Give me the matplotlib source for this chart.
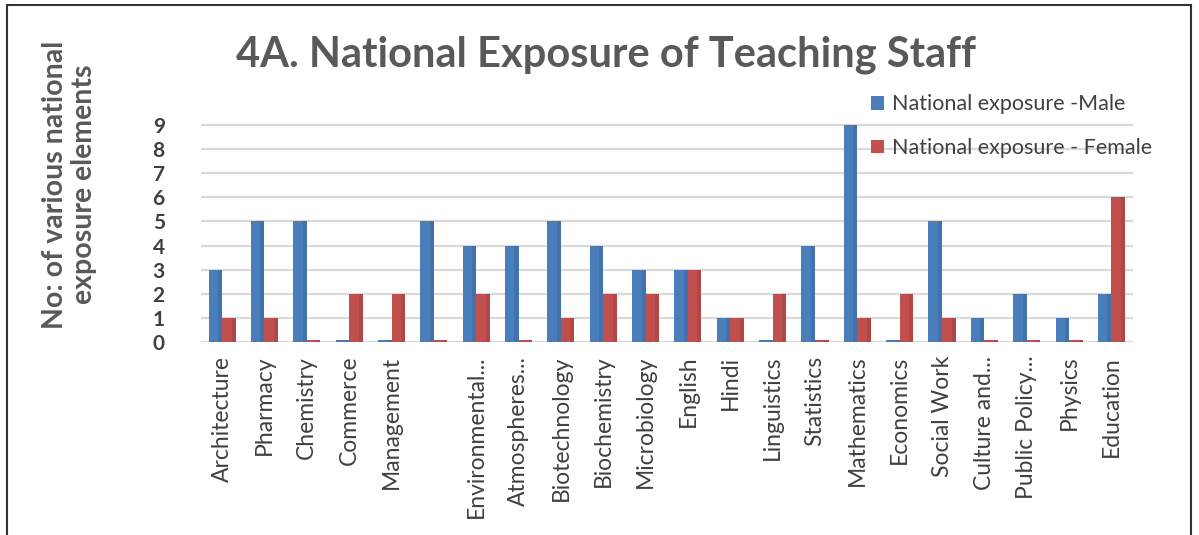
import numpy as np
import matplotlib
matplotlib.use("Agg")
from matplotlib import pyplot as plt
from matplotlib.patches import Rectangle

# data
subjects = ["Architecture", "Pharmacy", "Chemistry", "Commerce", "Management", "",
            "Environmental...", "Atmospheres...", "Biotechnology", "Biochemistry",
            "Microbiology", "English", "Hindi", "Linguistics", "Statistics",
            "Mathematics", "Economics", "Social Work", "Culture and...",
            "Public Policy...", "Physics", "Education"]
male = [3, 5, 5, 0, 0, 5, 4, 4, 5, 4, 3, 3, 1, 0, 4, 9, 0, 5, 1, 2, 1, 2]
female = [1, 1, 0, 2, 2, 0, 2, 0, 1, 2, 2, 3, 1, 2, 0, 1, 2, 1, 0, 0, 0, 6]
series_names = ["National exposure -Male", "National exposure - Female"]

BLUE = "#4a7ebb"
BLUE_DARK = "#345e95"
RED = "#c0504d"
RED_DARK = "#963a38"
GRAY = "#595959"
TEXT = "#404040"

plt.rcParams["font.family"] = ["Lato", "DejaVu Sans"]

fig = plt.figure(figsize=(11.99, 5.35), dpi=100)
ax = fig.add_axes([0.1676, 0.361, 0.777, 0.4097])

x = np.arange(len(subjects))
w = 0.32
floor = 0.06  # zero values still show a flat sliver like the 3D original

for vals, off, col, dark, name in [(male, -w / 2, BLUE, BLUE_DARK, series_names[0]),
                                   (female, w / 2, RED, RED_DARK, series_names[1])]:
    h = np.maximum(np.array(vals, dtype=float), floor)
    ax.bar(x + off, h, width=w, color=col, zorder=3, label=name)
    # darker side face for a bit of depth
    ax.bar(x + off + w * 0.35, h, width=w * 0.3, color=dark, alpha=0.35, zorder=4)

ax.set_xlim(-0.5, len(subjects) - 0.5)
ax.set_ylim(0, 9.1)
ax.set_yticks(range(10))
ax.set_yticklabels([str(i) for i in range(10)], fontsize=15, fontweight="bold", color=TEXT)
ax.set_xticks(x)
ax.set_xticklabels(subjects, rotation=90, fontsize=16.5, color=TEXT, va="top")
ax.tick_params(length=0, pad=10)
ax.tick_params(axis="y", pad=26)

ax.grid(axis="y", color="#d9d9d9", linewidth=1.6, zorder=0)
for s in ax.spines.values():
    s.set_visible(False)

fig.text(0.505, 0.897, "4A. National Exposure of Teaching Staff", ha="center", va="center",
         fontsize=30, fontweight="bold", color=GRAY)
fig.text(0.058, 0.655, "No: of various national\nexposure elements", rotation=90,
         ha="center", va="center", fontsize=20.5, fontweight="bold", color=GRAY,
         linespacing=1.15)

leg = fig.legend(handles=ax.containers[0:3:2], labels=series_names,
                 loc="upper left", bbox_to_anchor=(0.71, 0.86), frameon=False,
                 fontsize=15.5, handlelength=0.6, handleheight=0.6, labelspacing=1.1,
                 handletextpad=0.4, labelcolor=TEXT)

# outer frame like the pasted chart border
fig.patches.append(Rectangle((0.006, -0.01), 0.987, 1.0, transform=fig.transFigure,
                             fill=False, edgecolor="#333333", linewidth=1.5))

fig.savefig("out.png", dpi=100)
